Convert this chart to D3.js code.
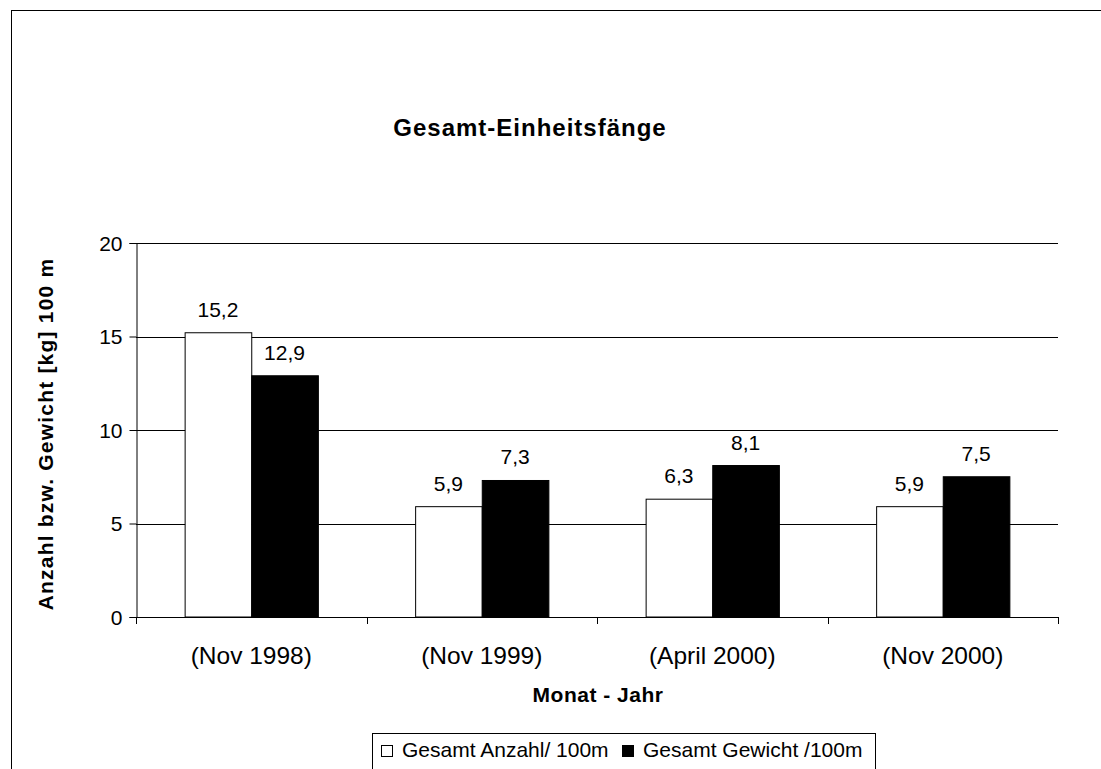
<!DOCTYPE html>
<html>
<head>
<meta charset="utf-8">
<script src="https://cdn.jsdelivr.net/npm/d3@7"></script>
<style>
  body { margin: 0; background: #fff; }
  text { font-family: "Liberation Sans", Arial, sans-serif; fill: #000; }
</style>
</head>
<body>
<div id="chart"></div>
<script>
var categories = ['(Nov 1998)', '(Nov 1999)', '(April 2000)', '(Nov 2000)'];
var seriesNames = ['Gesamt Anzahl/ 100m', 'Gesamt Gewicht /100m'];
var anzahl = [15.2, 5.9, 6.3, 5.9];
var gewicht = [12.9, 7.3, 8.1, 7.5];
var yTicks = [0, 5, 10, 15, 20];

var W = 1101, H = 769;
var m = { left: 136, right: 1058, top: 243, bottom: 617 };

var svg = d3.select('#chart').append('svg')
    .attr('width', W)
    .attr('height', H);

// outer frame (cropped on right and bottom)
svg.append('rect')
    .attr('x', 11.5).attr('y', 10.5)
    .attr('width', W + 20).attr('height', H + 20)
    .style('fill', 'none')
    .style('stroke', '#000')
    .style('stroke-width', 1);

var x = d3.scaleBand()
    .domain(categories)
    .range([m.left, m.right]);

var x1 = d3.scaleBand()
    .domain([0, 1])
    .range([0, x.bandwidth()])
    .paddingInner(0)
    .paddingOuter(0.73);

var y = d3.scaleLinear()
    .domain([0, 20])
    .range([m.bottom, m.top]);

// gridlines
svg.append('g')
    .selectAll('line')
    .data(yTicks.filter(function(d) { return d > 0; }))
    .enter().append('line')
    .attr('x1', m.left).attr('x2', m.right)
    .attr('y1', function(d) { return Math.round(y(d)) + 0.5; })
    .attr('y2', function(d) { return Math.round(y(d)) + 0.5; })
    .style('stroke', '#000')
    .style('stroke-width', 1);

// bars
var data = categories.map(function(c, i) {
  return { cat: c, vals: [anzahl[i], gewicht[i]] };
});

var groups = svg.append('g').selectAll('g')
    .data(data)
    .enter().append('g')
    .attr('transform', function(d) { return 'translate(' + x(d.cat) + ',0)'; });

groups.selectAll('rect')
    .data(function(d) { return d.vals.map(function(v, k) { return { k: k, v: v }; }); })
    .enter().append('rect')
    .attr('x', function(d) { return x1(d.k) + 0.5; })
    .attr('y', function(d) { return y(d.v); })
    .attr('width', x1.bandwidth())
    .attr('height', function(d) { return y(0) - y(d.v); })
    .style('fill', function(d) { return d.k === 0 ? '#fff' : '#000'; })
    .style('stroke', '#000')
    .style('stroke-width', 1);

groups.selectAll('text')
    .data(function(d) { return d.vals.map(function(v, k) { return { k: k, v: v }; }); })
    .enter().append('text')
    .attr('x', function(d) { return x1(d.k) + x1.bandwidth() / 2; })
    .attr('y', function(d) { return y(d.v) - 16; })
    .attr('text-anchor', 'middle')
    .style('font-size', '21px')
    .text(function(d) { return String(d.v.toFixed(1)).replace('.', ','); });

// y axis
var yAxis = svg.append('g')
    .attr('transform', 'translate(' + (m.left + 0.5) + ',0)')
    .call(d3.axisLeft(y).tickValues(yTicks).tickSize(7).tickPadding(7).tickFormat(d3.format('d')));
yAxis.select('.domain').attr('stroke', '#000');
yAxis.selectAll('text').style('font-size', '21px').attr('dy', '0.35em');

// x axis
var xAxis = svg.append('g')
    .attr('transform', 'translate(0,' + (m.bottom + 0.5) + ')')
    .call(d3.axisBottom(x).tickSize(0).tickPadding(20));
xAxis.select('.domain').attr('d', 'M' + m.left + ',0H' + m.right).attr('stroke', '#000');
xAxis.selectAll('text').style('font-size', '24.5px').attr('dy', null).attr('y', 46);

// category separator ticks
svg.append('g').selectAll('line')
    .data(categories.concat(['end']))
    .enter().append('line')
    .attr('x1', function(d, i) { return Math.round(m.left + i * x.bandwidth()) + 0.5; })
    .attr('x2', function(d, i) { return Math.round(m.left + i * x.bandwidth()) + 0.5; })
    .attr('y1', m.bottom).attr('y2', m.bottom + 7)
    .style('stroke', '#000');

// titles
svg.append('text')
    .attr('x', 530).attr('y', 136)
    .attr('text-anchor', 'middle')
    .style('font-size', '24px').style('font-weight', 'bold')
    .style('letter-spacing', '1px')
    .text('Gesamt-Einheitsfänge');

svg.append('text')
    .attr('x', 598).attr('y', 702)
    .attr('text-anchor', 'middle')
    .style('font-size', '21px').style('font-weight', 'bold')
    .style('letter-spacing', '0.5px')
    .text('Monat - Jahr');

svg.append('text')
    .attr('transform', 'translate(53,434) rotate(-90)')
    .attr('text-anchor', 'middle')
    .style('font-size', '21px').style('font-weight', 'bold')
    .style('letter-spacing', '1.2px')
    .text('Anzahl bzw. Gewicht [kg] 100 m');

// legend
var legend = svg.append('g');
legend.append('rect')
    .attr('x', 372.5).attr('y', 733.5)
    .attr('width', 503).attr('height', 60)
    .style('fill', '#fff').style('stroke', '#000');

var lx = [381, 622];
seriesNames.forEach(function(name, i) {
  legend.append('rect')
    .attr('x', lx[i] + 0.5).attr('y', 745.5)
    .attr('width', 11).attr('height', 11)
    .style('fill', i === 0 ? '#fff' : '#000')
    .style('stroke', '#000');
  legend.append('text')
    .attr('x', lx[i] + 21).attr('y', 757)
    .style('font-size', '21px')
    .text(name);
});
</script>
</body>
</html>
